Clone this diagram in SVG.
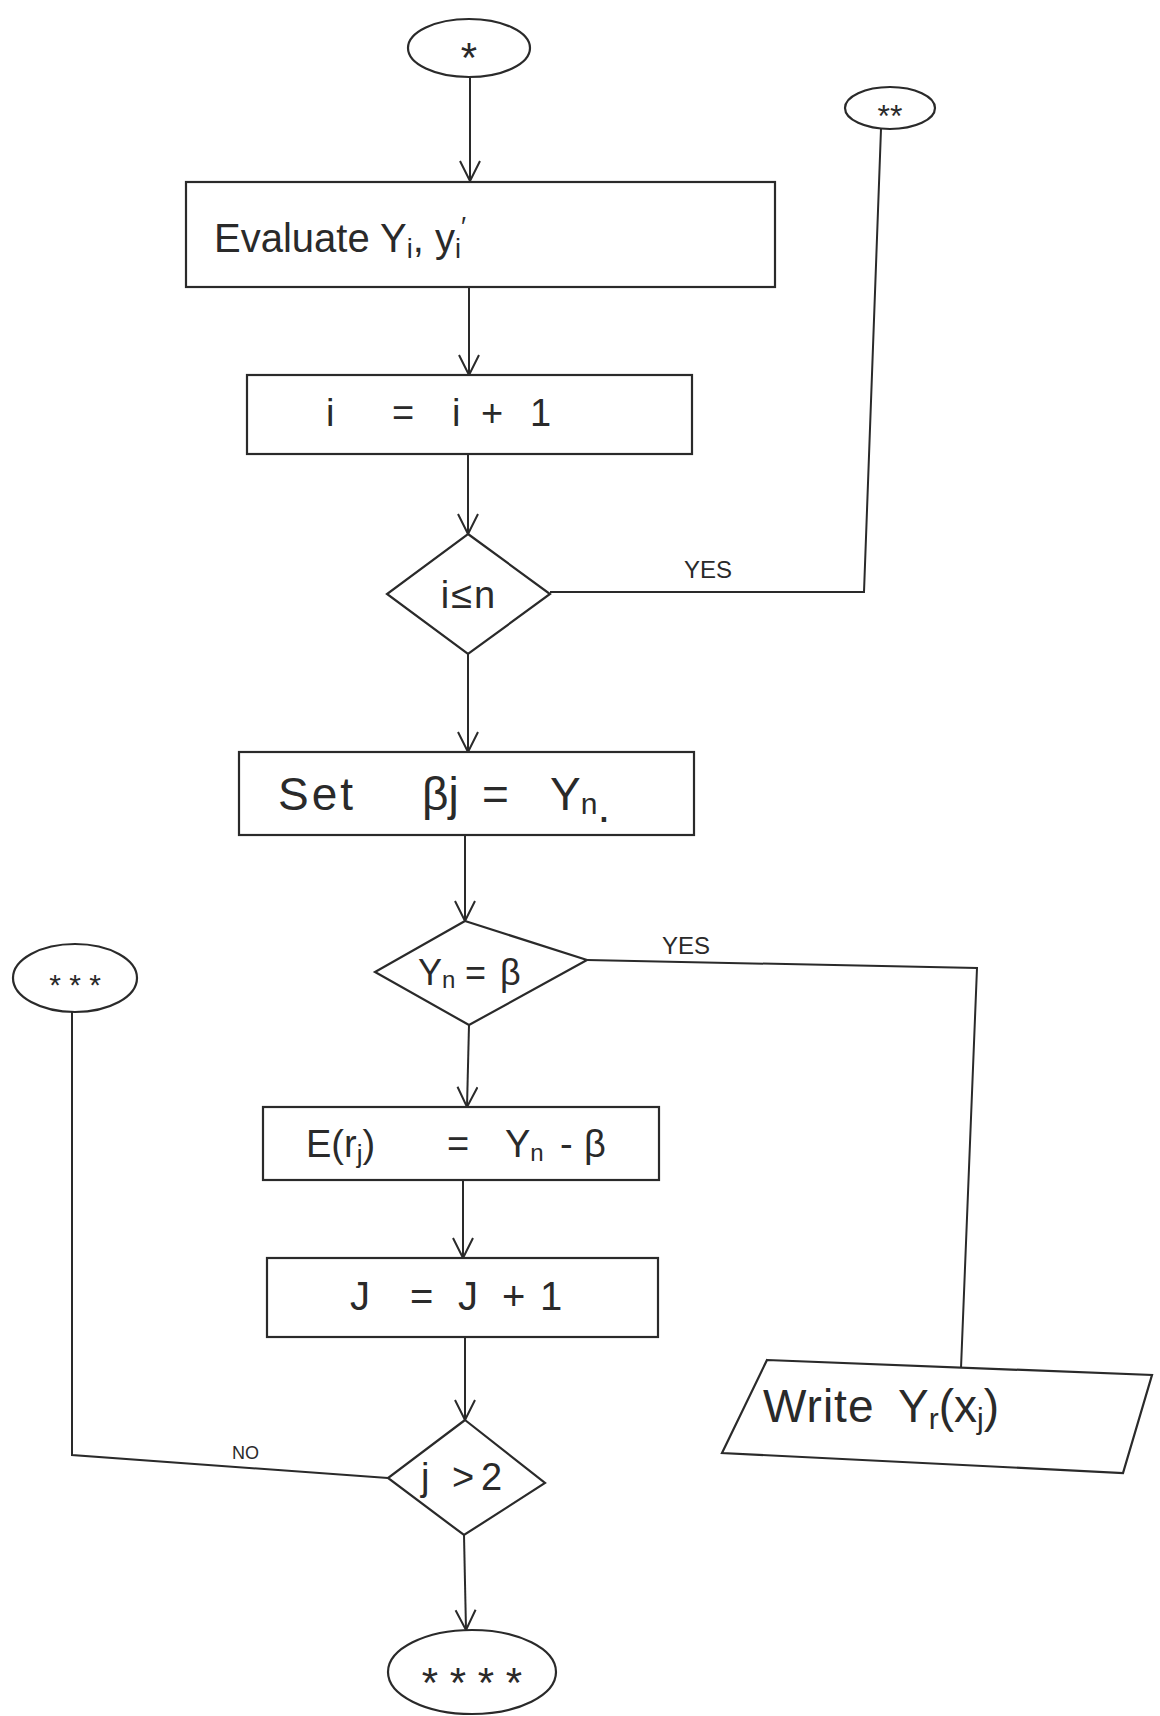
<svg xmlns="http://www.w3.org/2000/svg" width="1160" height="1716" viewBox="0 0 1160 1716">
<defs>
<style>
.s{fill:none;stroke:#2a2a2a;stroke-width:2}
.b{fill:#fff;stroke:#2a2a2a;stroke-width:2.2}
.t{font-family:"Liberation Sans","DejaVu Sans",sans-serif;fill:#2a2a2a}
.lbl{font-family:"Liberation Sans","DejaVu Sans",sans-serif;fill:#2a2a2a;font-size:24px}
</style>
<marker id="ah" markerUnits="userSpaceOnUse" markerWidth="26" markerHeight="26" refX="22" refY="11" orient="auto">
<path d="M2,1 L22,11 L2,21" fill="none" stroke="#2a2a2a" stroke-width="2"/>
</marker>
</defs>
<rect width="1160" height="1716" fill="#fff"/>
<g id="connectors">
<line class="s" x1="470" y1="77" x2="470" y2="181" marker-end="url(#ah)"/>
<line class="s" x1="469" y1="288" x2="469" y2="375" marker-end="url(#ah)"/>
<line class="s" x1="468" y1="455" x2="468" y2="534" marker-end="url(#ah)"/>
<line class="s" x1="468" y1="654" x2="468" y2="752" marker-end="url(#ah)"/>
<line class="s" x1="465" y1="836" x2="465" y2="921" marker-end="url(#ah)"/>
<line class="s" x1="469" y1="1025" x2="467" y2="1107" marker-end="url(#ah)"/>
<line class="s" x1="463" y1="1181" x2="463" y2="1258" marker-end="url(#ah)"/>
<line class="s" x1="465" y1="1338" x2="465" y2="1420" marker-end="url(#ah)"/>
<line class="s" x1="464" y1="1535" x2="466" y2="1630" marker-end="url(#ah)"/>
<polyline class="s" points="550,592 864,592 881,129"/>
<polyline class="s" points="587,960 977,968 961,1368"/>
<polyline class="s" points="72,1012 72,1455 388,1478"/>
<text class="lbl" x="684" y="578">YES</text>
<text class="lbl" x="662" y="954">YES</text>
<text class="lbl" x="232" y="1459" style="font-size:18px">NO</text>
</g>
<g id="start">
<ellipse class="b" cx="469" cy="48" rx="61" ry="29"/>
<text class="t" x="469" y="72" font-size="42" text-anchor="middle">*</text>
</g>
<g id="evaluate">
<rect class="b" x="186" y="182" width="589" height="105"/>
<text class="t" x="214" y="252" font-size="40">Evaluate  Y<tspan font-size="27" dy="6">i</tspan><tspan dy="-6">, y</tspan><tspan font-size="27" dy="6">i</tspan><tspan dy="-22" font-size="27">′</tspan></text>
</g>
<g id="increment-i">
<rect class="b" x="247" y="375" width="445" height="79"/>
<text class="t" y="426" font-size="38"><tspan x="326">i</tspan><tspan x="392">=</tspan><tspan x="452">i</tspan><tspan x="481">+</tspan><tspan x="530">1</tspan></text>
</g>
<g id="check-i">
<polygon class="b" points="468,534 550,594 468,654 387,594"/>
<text class="t" x="469" y="608" font-size="38" text-anchor="middle" letter-spacing="2">i≤n</text>
</g>
<g id="connector-2">
<ellipse class="b" cx="890" cy="108" rx="45" ry="21"/>
<text class="t" x="890" y="127" font-size="32" text-anchor="middle">**</text>
</g>
<g id="set-beta">
<rect class="b" x="239" y="752" width="455" height="83"/>
<text class="t" y="810" font-size="46"><tspan x="278" letter-spacing="3">Set</tspan><tspan x="422">β</tspan><tspan>j</tspan><tspan x="482">=</tspan><tspan x="550">Y</tspan><tspan font-size="30" dy="4">n</tspan><tspan dy="8">.</tspan></text>
</g>
<g id="check-y">
<polygon class="b" points="465,921 587,960 469,1025 375,972"/>
<text class="t" y="985" font-size="36"><tspan x="418">Y</tspan><tspan font-size="24" dy="3">n</tspan><tspan x="465" dy="-3">=</tspan><tspan x="500">β</tspan></text>
</g>
<g id="connector-3">
<ellipse class="b" cx="75" cy="978" rx="62" ry="34"/>
<text class="t" x="75" y="995" font-size="30" text-anchor="middle">* * *</text>
</g>
<g id="error">
<rect class="b" x="263" y="1107" width="396" height="73"/>
<text class="t" y="1157" font-size="38"><tspan x="306">E(r</tspan><tspan font-size="26" dy="6">j</tspan><tspan dy="-6">)</tspan><tspan x="447">=</tspan><tspan x="505">Y</tspan><tspan font-size="24" dy="4">n</tspan><tspan x="560" dy="-4">-</tspan><tspan x="584">β</tspan></text>
</g>
<g id="increment-j">
<rect class="b" x="267" y="1258" width="391" height="79"/>
<text class="t" y="1310" font-size="40"><tspan x="350">J</tspan><tspan x="410">=</tspan><tspan x="458">J</tspan><tspan x="502">+</tspan><tspan x="540">1</tspan></text>
</g>
<g id="check-j">
<polygon class="b" points="465,1420 545,1483 464,1535 388,1478"/>
<text class="t" y="1490" font-size="38"><tspan x="421">j</tspan><tspan x="452">&gt;</tspan><tspan x="481">2</tspan></text>
</g>
<g id="end">
<ellipse class="b" cx="472" cy="1672" rx="84" ry="42"/>
<text class="t" x="472" y="1697" font-size="42" text-anchor="middle">* * * *</text>
</g>
<g id="write">
<polygon class="b" points="767,1360 1152,1375 1123,1473 722,1453"/>
<text class="t" y="1422" font-size="46"><tspan x="763" letter-spacing="1">Write</tspan><tspan x="898">Y</tspan><tspan font-size="30" dy="7">r</tspan><tspan dy="-7">(x</tspan><tspan font-size="30" dy="7">j</tspan><tspan dy="-7">)</tspan></text>
</g>
</svg>
